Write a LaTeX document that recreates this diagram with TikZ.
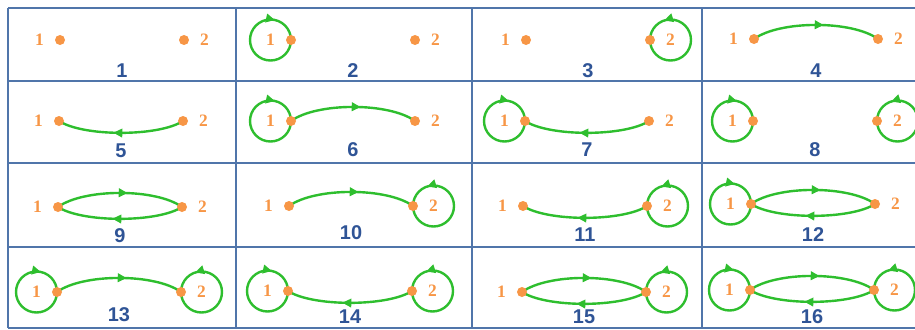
\documentclass[tikz,border=0pt]{standalone}
\usepackage{fontspec}
\setmainfont{Liberation Serif}
\setsansfont{Liberation Sans}
\usepackage{xcolor}
\usepackage{tikz}
\usetikzlibrary{arrows.meta, positioning, calc, decorations.markings, backgrounds}
\definecolor{grgrid}{HTML}{5075AA}
\definecolor{grnum}{HTML}{2F5496}
\definecolor{grdot}{HTML}{F79646}
\definecolor{grlink}{HTML}{2EBE2E}

\begin{document}
\begin{tikzpicture}[x=1bp, y=1bp,
        vdot/.style={circle, fill=grdot, inner sep=0pt, minimum size=10bp},
        lbl/.style={text=grdot, font=\bfseries\fontsize{17.5}{18}\selectfont, inner sep=0pt},
        vnum/.style={text=grnum, font=\sffamily\bfseries\fontsize{20}{20}\selectfont, inner sep=0pt},
        link/.style={color=grlink, line width=2.4bp},
        midarr/.style={postaction={decorate}, decoration={markings,
          mark=at position #1 with {\arrow{Triangle[length=9bp,width=8.5bp]}}}},
        gridline/.style={draw=grgrid, line width=1.5bp}]
  \useasboundingbox (0,0) rectangle (915,329);
  % table lines
  \foreach \gy in {321,248,166,82,1}
    \draw[gridline] (8,\gy) -- (915,\gy);
  \foreach \gx in {8,236,472,702}
    \draw[gridline] (\gx,1) -- (\gx,321);
  % cell: number / x of vertex 1 / y / drop of number / loop 1 / loop 2 / 1->2 / 2->1
  \foreach \n/\x/\y/\dy/\la/\lb/\ea/\eb in {
      1/60/289/31/0/0/0/0, 2/291/289/31/1/0/0/0, 3/526/289/31/0/1/0/0, 4/754/290/32/0/0/1/0,
      5/59/208/30/0/0/0/1, 6/291/208/29/1/0/1/0, 7/525/208/29/1/0/0/1, 8/753/208/29/1/1/0/0,
      9/58/122/29/0/0/1/1, 10/289/123/27/0/1/1/0, 11/523/123/29/0/1/0/1, 12/751/125/31/1/0/1/1,
      13/57/37/23/1/1/1/0, 14/288/38/26/1/1/0/1, 15/522/37/25/0/1/1/1, 16/750/39/27/1/1/1/1}{
    \node[vdot] (p\n) at (\x,\y) {};
    \node[vdot, on grid, right=124bp of p\n] (q\n) {};
    \node[lbl, on grid, left=20.5bp of p\n] (lp\n) {1};
    \node[lbl, on grid, right=20.5bp of q\n] (lq\n) {2};
    \node[vnum] (num\n) at ($(p\n)!0.5!(q\n)-(0,\dy)$) {\n};
    \begin{scope}[on background layer]
      \ifnum\la=1 \draw[link, midarr=0.785] (p\n.center) arc[start angle=0, end angle=-360, radius=20.5bp]; \fi
      \ifnum\lb=1 \draw[link, midarr=0.80] (q\n.center) arc[start angle=180, end angle=540, radius=20.5bp]; \fi
      \ifnum\ea=1 \draw[link, midarr=0.56] (p\n.center) to[bend left=36, looseness=0.66] (q\n.center); \fi
      \ifnum\eb=1 \draw[link, midarr=0.56] (q\n.center) to[bend left=33, looseness=0.6] (p\n.center); \fi
    \end{scope}
  }
\end{tikzpicture}
\end{document}
